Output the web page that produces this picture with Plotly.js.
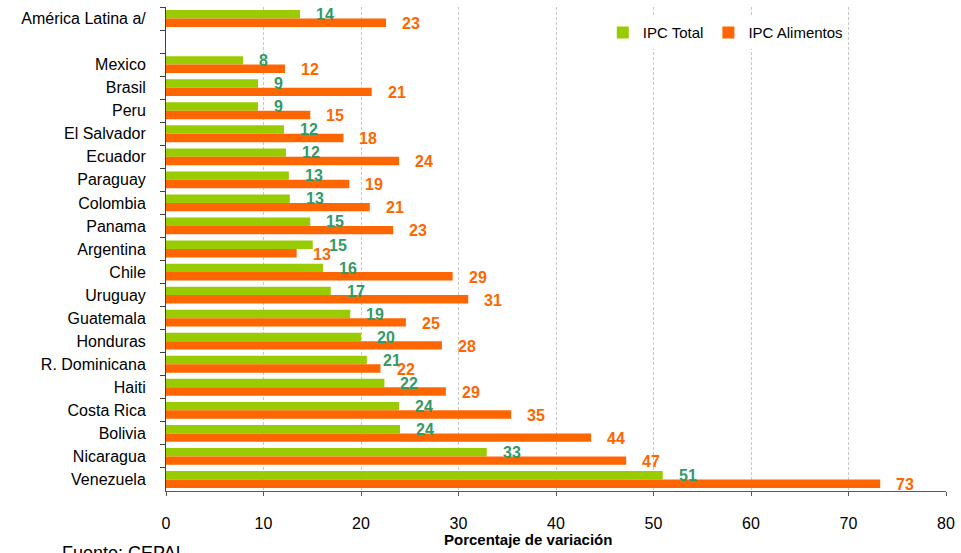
<!DOCTYPE html>
<html>
<head>
<meta charset="utf-8">
<script src="https://cdn.plot.ly/plotly-3.0.1.min.js"></script>
<style>html,body{margin:0;padding:0;background:#fff;}#chart{width:961px;height:553px;}</style>
</head>
<body>
<div id="chart"></div>
<script>
const categories = ["América Latina a/", " ", "Mexico", "Brasil", "Peru", "El Salvador", "Ecuador", "Paraguay", "Colombia", "Panama", "Argentina", "Chile", "Uruguay", "Guatemala", "Honduras", "R. Dominicana", "Haiti", "Costa Rica", "Bolivia", "Nicaragua", "Venezuela"];
const ipcTotal = [13.75, null, 7.9, 9.44, 9.44, 12.1, 12.3, 12.6, 12.7, 14.8, 15.05, 16.1, 16.9, 18.9, 20.0, 20.6, 22.4, 23.9, 24.0, 32.9, 50.95];
const ipcAlimentos = [22.57, null, 12.2, 21.1, 14.8, 18.2, 23.9, 18.8, 20.9, 23.3, 13.4, 29.4, 31.0, 24.6, 28.3, 22.0, 28.7, 35.4, 43.6, 47.2, 73.25];
const seriesNames = ["IPC Total", "IPC Alimentos"];
const xTicks = [0, 10, 20, 30, 40, 50, 60, 70, 80];

const green = "#99CC00", orange = "#FF6600", greenLabel = "#339966";
const font = "Liberation Sans, Arial, sans-serif";

const traces = [
  {type: "bar", orientation: "h", name: seriesNames[0], y: categories, x: ipcTotal,
   marker: {color: green}, hoverinfo: "x+y"},
  {type: "bar", orientation: "h", name: seriesNames[1], y: categories, x: ipcAlimentos,
   marker: {color: orange}, hoverinfo: "x+y"}
];

const annotations = [];
categories.forEach((c, i) => {
  if (ipcTotal[i] != null) annotations.push({x: ipcTotal[i], y: c, xref: "x", yref: "y",
    text: "<b>" + Math.round(ipcTotal[i]) + "</b>", showarrow: false, xanchor: "left", yanchor: "middle",
    xshift: 14, yshift: 4, font: {family: font, size: 16, color: greenLabel}});
  if (ipcAlimentos[i] != null) annotations.push({x: ipcAlimentos[i], y: c, xref: "x", yref: "y",
    text: "<b>" + Math.round(ipcAlimentos[i]) + "</b>", showarrow: false, xanchor: "left", yanchor: "middle",
    xshift: 14, yshift: -5, font: {family: font, size: 16, color: orange}});
});
annotations.push({xref: "paper", yref: "paper", x: 0.464, y: -0.1, xanchor: "center", yanchor: "middle",
  text: "<b>Porcentaje de variación</b>", showarrow: false, font: {family: font, size: 15, color: "#000"}});
annotations.push({xref: "paper", yref: "paper", x: -0.136, y: -0.104, xanchor: "left", yanchor: "top",
  text: "Fuente: CEPAL", showarrow: false, font: {family: font, size: 18, color: "#000"}});

const layout = {
  width: 961, height: 553,
  margin: {l: 166, r: 15, t: 7, b: 62},
  paper_bgcolor: "#fff", plot_bgcolor: "#fff",
  font: {family: font, size: 16, color: "#000"},
  barmode: "group", bargap: 0.27, bargroupgap: 0,
  showlegend: true,
  legend: {orientation: "h", x: 0.56, xanchor: "left", y: 0.947, yanchor: "middle",
    bgcolor: "#fff", font: {family: font, size: 15, color: "#000"}, itemwidth: 30, traceorder: "normal"},
  xaxis: {range: [0, 80], tickvals: xTicks, ticktext: xTicks.map(String), showgrid: true,
    gridcolor: "#C8C8C8", griddash: "3px,2px", gridwidth: 1, zeroline: false,
    showline: true, linecolor: "#595959", linewidth: 1, ticks: "outside", ticklen: 4, tickcolor: "#595959",
    tickfont: {family: font, size: 16, color: "#000"}, ticklabelstandoff: 14, fixedrange: true},
  yaxis: {type: "category", categoryorder: "array", categoryarray: categories, range: [20.5, -0.5],
    showgrid: false, zeroline: false, showline: true, linecolor: "#404040", linewidth: 1,
    ticks: "outside", ticklen: 5, tickcolor: "#404040", tickson: "boundaries",
    tickfont: {family: font, size: 16, color: "#000"}, ticklabelstandoff: 16, fixedrange: true},
  annotations: annotations
};

Plotly.newPlot("chart", traces, layout, {displayModeBar: false, staticPlot: true});
</script>
</body>
</html>
